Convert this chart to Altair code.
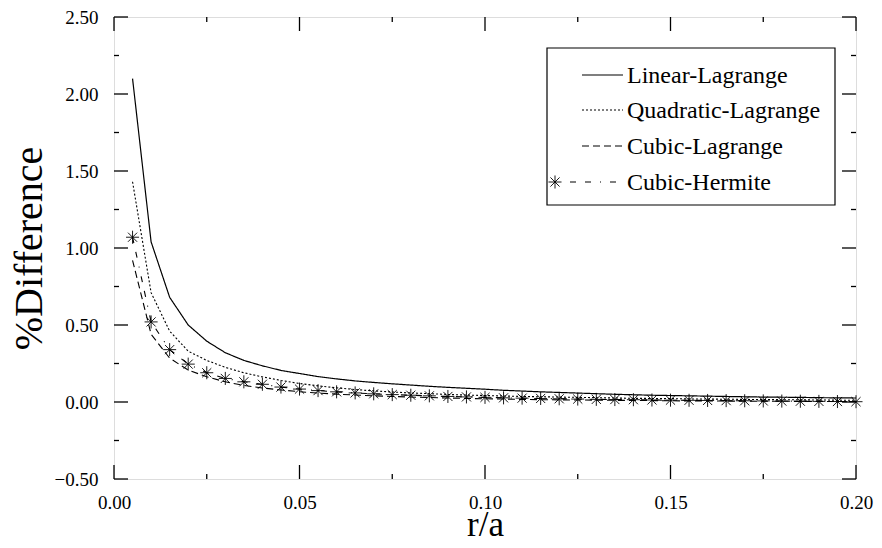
import altair as alt
import pandas as pd

r_a = [0.005, 0.010, 0.015, 0.020, 0.025, 0.030, 0.035, 0.040, 0.045, 0.050,
       0.055, 0.060, 0.065, 0.070, 0.075, 0.080, 0.085, 0.090, 0.095, 0.100,
       0.105, 0.110, 0.115, 0.120, 0.125, 0.130, 0.135, 0.140, 0.145, 0.150,
       0.155, 0.160, 0.165, 0.170, 0.175, 0.180, 0.185, 0.190, 0.195, 0.200]

linear_lagrange = [2.10, 1.04, 0.68, 0.50, 0.395, 0.32, 0.27, 0.235, 0.205, 0.185,
                   0.165, 0.150, 0.137, 0.127, 0.118, 0.110, 0.102, 0.095, 0.089, 0.083,
                   0.076, 0.071, 0.066, 0.062, 0.058, 0.054, 0.050, 0.047, 0.044, 0.042,
                   0.040, 0.038, 0.036, 0.034, 0.032, 0.031, 0.030, 0.028, 0.027, 0.026]

quadratic_lagrange = [1.43, 0.71, 0.46, 0.33, 0.27, 0.225, 0.19, 0.163, 0.14, 0.12,
                      0.105, 0.092, 0.081, 0.072, 0.065, 0.059, 0.054, 0.049, 0.045, 0.042,
                      0.039, 0.036, 0.034, 0.032, 0.030, 0.028, 0.026, 0.024, 0.023, 0.022,
                      0.020, 0.019, 0.018, 0.017, 0.016, 0.015, 0.014, 0.013, 0.012, 0.011]

cubic_lagrange = [0.92, 0.44, 0.285, 0.207, 0.164, 0.131, 0.108, 0.091, 0.078, 0.067,
                  0.058, 0.051, 0.045, 0.040, 0.036, 0.032, 0.029, 0.026, 0.023, 0.021,
                  0.019, 0.017, 0.015, 0.014, 0.013, 0.012, 0.011, 0.010, 0.009, 0.008,
                  0.007, 0.007, 0.006, 0.006, 0.005, 0.005, 0.004, 0.004, 0.003, 0.003]

cubic_hermite = [1.07, 0.52, 0.34, 0.246, 0.19, 0.153, 0.131, 0.115, 0.097, 0.084,
                 0.074, 0.066, 0.059, 0.053, 0.048, 0.044, 0.040, 0.036, 0.033, 0.030,
                 0.027, 0.025, 0.023, 0.021, 0.019, 0.017, 0.016, 0.015, 0.013, 0.012,
                 0.011, 0.010, 0.009, 0.008, 0.007, 0.006, 0.005, 0.004, 0.003, 0.002]

series_names = ["Linear-Lagrange", "Quadratic-Lagrange", "Cubic-Lagrange", "Cubic-Hermite"]
series_values = [linear_lagrange, quadratic_lagrange, cubic_lagrange, cubic_hermite]

x_major = [0.00, 0.05, 0.10, 0.15, 0.20]
x_minor = [0.025, 0.075, 0.125, 0.175]
y_major = [-0.50, 0.00, 0.50, 1.00, 1.50, 2.00, 2.50]
y_minor = [-0.25, 0.25, 0.75, 1.25, 1.75, 2.25]

W, H = 742, 462
FONT = "Times New Roman, Liberation Serif, serif"
STAR = "M-1,0L1,0M0,-1L0,1M-0.7,-0.7L0.7,0.7M-0.7,0.7L0.7,-0.7"
dashes = {
    "Linear-Lagrange": [1, 0],
    "Quadratic-Lagrange": [2, 2],
    "Cubic-Lagrange": [7, 4],
    "Cubic-Hermite": [6, 9, 6, 9, 1, 9],
}

rows = []
for name, vals in zip(series_names, series_values):
    for xv, yv in zip(r_a, vals):
        rows.append({"r": xv, "d": yv, "series": name})
df = pd.DataFrame(rows)

xscale = alt.Scale(domain=[0, 0.2], nice=False, zero=False)
yscale = alt.Scale(domain=[-0.5, 2.5], nice=False, zero=False)

xaxis = alt.Axis(values=x_major, format=".2f", ticks=False, domain=False, grid=False,
                 labelPadding=14, labelFontSize=19, labelFont=FONT, labelColor="black",
                 title="r/a", titleFont=FONT, titleFontSize=35, titleFontWeight="normal",
                 titleColor="black", titleX=W / 2, titleY=45, titleBaseline="middle",
                 labelFlush=False)
yaxis = alt.Axis(values=y_major, format=".2f", ticks=False, domain=False, grid=False,
                 labelPadding=16, labelFontSize=19, labelFont=FONT, labelColor="black",
                 title="%Difference", titleFont=FONT, titleFontSize=40,
                 titleFontWeight="normal", titleColor="black", titleX=-85, titleY=H / 2,
                 titleAngle=270, titleBaseline="middle", titleAlign="center",
                 labelFlush=False)

base = alt.Chart(df)

layers = []
for name in series_names:
    sub = base.transform_filter(alt.datum.series == name)
    layers.append(
        sub.mark_line(color="black", strokeWidth=1.2 if name == "Linear-Lagrange" else 1.1,
                      strokeDash=dashes[name], clip=True).encode(
            x=alt.X("r:Q", scale=xscale, axis=xaxis),
            y=alt.Y("d:Q", scale=yscale, axis=yaxis),
            order="r:Q",
        )
    )

herm = base.transform_filter(alt.datum.series == "Cubic-Hermite").mark_point(
    shape=STAR, size=170, filled=False, color="black", strokeWidth=0.9, opacity=1
).encode(x=alt.X("r:Q", scale=xscale), y=alt.Y("d:Q", scale=yscale))
layers.append(herm)

# inward ticks on all four sides
tick_y_major = pd.DataFrame({"v": y_major})
tick_y_minor = pd.DataFrame({"v": y_minor})
tick_x_major = pd.DataFrame({"v": x_major})
tick_x_minor = pd.DataFrame({"v": x_minor})
for dfx, ln in [(tick_y_major, 14), (tick_y_minor, 5)]:
    c = alt.Chart(dfx)
    layers.append(c.mark_rule(color="black", strokeWidth=1.3).encode(
        y=alt.Y("v:Q", scale=yscale), x=alt.value(0), x2=alt.value(ln)))
    layers.append(c.mark_rule(color="black", strokeWidth=1.3).encode(
        y=alt.Y("v:Q", scale=yscale), x=alt.value(W - ln), x2=alt.value(W)))
for dfx, ln in [(tick_x_major, 14), (tick_x_minor, 5)]:
    c = alt.Chart(dfx)
    layers.append(c.mark_rule(color="black", strokeWidth=1.3).encode(
        x=alt.X("v:Q", scale=xscale), y=alt.value(H), y2=alt.value(H - ln)))
    layers.append(c.mark_rule(color="black", strokeWidth=1.3).encode(
        x=alt.X("v:Q", scale=xscale), y=alt.value(0), y2=alt.value(ln)))

# legend box
leg_df = pd.DataFrame({"label": series_names})
box = alt.Chart(pd.DataFrame({"k": [0]})).mark_rect(
    fill="white", stroke="black", strokeWidth=1.2
).encode(x=alt.value(433), x2=alt.value(721), y=alt.value(31), y2=alt.value(188))
layers.append(box)

row_y = [58, 93, 129, 165]
for i, name in enumerate(series_names):
    c = alt.Chart(leg_df).transform_filter(alt.datum.label == name)
    layers.append(c.mark_text(align="left", baseline="middle", font=FONT, fontSize=24,
                              color="black").encode(
        text="label:N", x=alt.value(513), y=alt.value(row_y[i] + 1)))
    x0 = 456 if name == "Cubic-Hermite" else 468
    layers.append(c.mark_rule(color="black", strokeWidth=1.1,
                              strokeDash=dashes[name]).encode(
        x=alt.value(x0), x2=alt.value(509), y=alt.value(row_y[i])))
    if name == "Cubic-Hermite":
        layers.append(c.mark_point(shape=STAR, size=170, filled=False, color="black",
                                   strokeWidth=0.9, opacity=1).encode(
            x=alt.value(441), y=alt.value(row_y[i])))

chart = alt.layer(*layers).properties(
    width=W, height=H,
    autosize=alt.AutoSizeParams(type="none"),
    padding={"left": 106, "top": 9, "right": 18, "bottom": 60},
).configure_view(stroke="black", strokeWidth=1.6).configure(background="white")

chart.save("out.html", embed_options={"renderer": "svg", "actions": False})
